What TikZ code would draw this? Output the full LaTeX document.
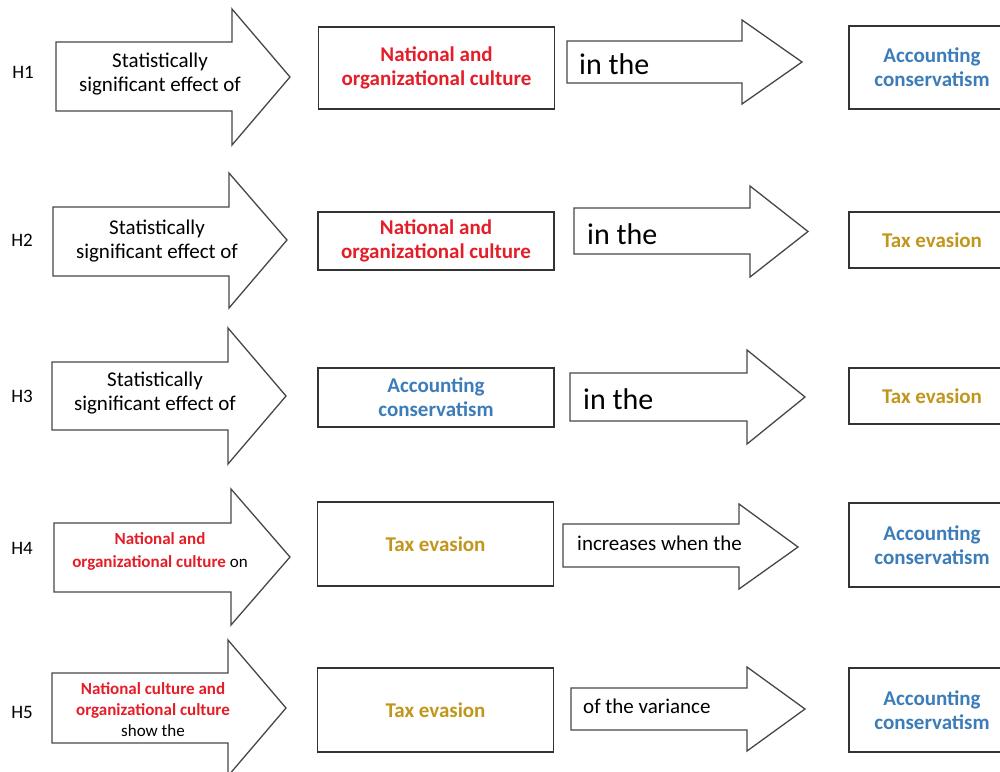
\documentclass[tikz,border=0pt]{standalone}
\usepackage{fontspec}
\setmainfont{Carlito}
\definecolor{natred}{RGB}{228,30,40}
\definecolor{accblue}{RGB}{60,124,184}
\definecolor{taxgold}{RGB}{192,150,28}
\begin{document}
\begin{tikzpicture}[
  x=1pt, y=-1pt,
  blockarrow/.style={draw=black!72, line width=1.3pt, fill=white},
  varbox/.style={draw=black!80, line width=1.3pt, minimum width=236pt, inner sep=0pt,
    font=\fontsize{21}{24}\selectfont\bfseries, align=center},
  rightbox/.style={varbox, minimum width=166pt},
  hyp/.style={font=\fontsize{19}{22}\selectfont},
  arrowtext/.style={font=\fontsize{21}{24}\selectfont, align=center, inner sep=0pt},
  linktext/.style={font=\fontsize{21}{24}\selectfont, anchor=west, inner sep=0pt},
  bigin/.style={linktext, font=\fontsize{30}{34}\selectfont}
]
\useasboundingbox (0,0) rectangle (1000,771);
% H1
\node [hyp] (h1) at (23,72) {H1};
\draw [blockarrow] (56,42) -- (232,42) -- (232,9) -- (290,77) -- (232,145) -- (232,111) -- (56,111) -- cycle;
\node [arrowtext] (eff1) at (160,74) {Statistically\\significant effect of};
\node [varbox, minimum height=82pt, text=natred] (cult1) at (436.5,68) {National and\\organizational culture};
\draw [blockarrow] (567,41) -- (742,41) -- (742,20) -- (802,62) -- (742,104) -- (742,83) -- (567,83) -- cycle;
\node [bigin] (in1) at (579,64) {in the};
\node [rightbox, minimum height=83pt, text=accblue] (cons1) at (932,67.5) {Accounting\\conservatism};
% H2
\node [hyp] (h2) at (22,240) {H2};
\draw [blockarrow] (53,207) -- (229,207) -- (229,173) -- (287,240) -- (229,308) -- (229,276) -- (53,276) -- cycle;
\node [arrowtext] (eff2) at (157,241) {Statistically\\significant effect of};
\node [varbox, minimum height=58pt, text=natred] (cult2) at (436,241) {National and\\organizational culture};
\draw [blockarrow] (574,208) -- (750,208) -- (750,186) -- (808,231.5) -- (750,277) -- (750,254) -- (574,254) -- cycle;
\node [bigin] (in2) at (587,234) {in the};
\node [rightbox, minimum height=56pt, text=taxgold] (tax2) at (932,240) {Tax evasion};
% H3
\node [hyp] (h3) at (22,396) {H3};
\draw [blockarrow] (52,362) -- (228,362) -- (228,328) -- (286,396) -- (228,464) -- (228,430) -- (52,430) -- cycle;
\node [arrowtext] (eff3) at (155,393) {Statistically\\significant effect of};
\node [varbox, minimum height=59pt, text=accblue] (cons3) at (436,397.5) {Accounting\\conservatism};
\draw [blockarrow] (570,373) -- (747,373) -- (747,350) -- (805,397) -- (747,444) -- (747,421) -- (570,421) -- cycle;
\node [bigin] (in3) at (583,399) {in the};
\node [rightbox, minimum height=56pt, text=taxgold] (tax3) at (932,396) {Tax evasion};
% H4
\node [hyp] (h4) at (22,548) {H4};
\draw [blockarrow] (54,523) -- (231,523) -- (231,489) -- (290,557) -- (231,625) -- (231,592) -- (54,592) -- cycle;
\node [arrowtext, font=\fontsize{17}{23}\selectfont] (cult4) at (160,551)
  {\textcolor{natred}{\bfseries National and}\\\textcolor{natred}{\bfseries organizational culture} on};
\node [varbox, minimum height=84pt, text=taxgold] (tax4) at (435.5,544) {Tax evasion};
\draw [blockarrow] (563,524) -- (739,524) -- (739,504) -- (798,547) -- (739,589) -- (739,567) -- (563,567) -- cycle;
\node [linktext] (incr4) at (577,543) {increases when the};
\node [rightbox, minimum height=84pt, text=accblue] (cons4) at (932,545) {Accounting\\conservatism};
% H5
\node [hyp] (h5) at (22,712) {H5};
\draw [blockarrow] (52,673) -- (228,673) -- (228,640) -- (286,708) -- (228,776) -- (228,743) -- (52,743) -- cycle;
\node [arrowtext, font=\fontsize{17}{21}\selectfont] (cult5) at (153,710)
  {\textcolor{natred}{\bfseries National culture and}\\\textcolor{natred}{\bfseries organizational culture}\\show the};
\node [varbox, minimum height=84pt, text=taxgold] (tax5) at (435.5,710) {Tax evasion};
\draw [blockarrow] (571,688) -- (747,688) -- (747,667) -- (805,709) -- (747,751) -- (747,730) -- (571,730) -- cycle;
\node [linktext] (var5) at (583,706) {of the variance};
\node [rightbox, minimum height=84pt, text=accblue] (cons5) at (932,710) {Accounting\\conservatism};
\end{tikzpicture}
\end{document}
